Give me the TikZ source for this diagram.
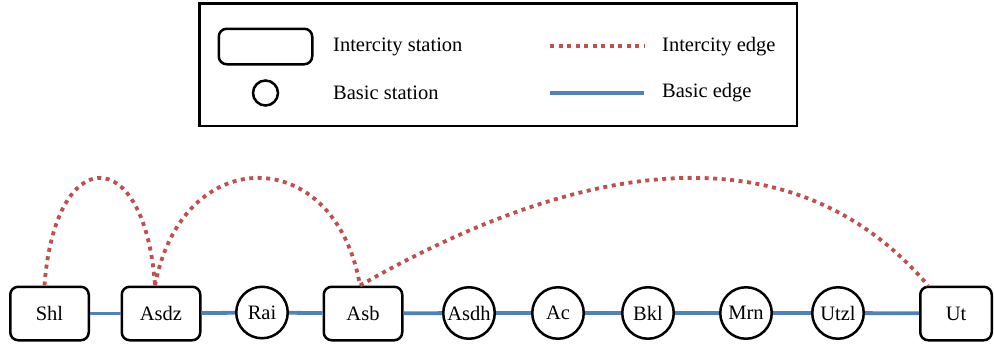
\documentclass[tikz,border=0pt]{standalone}
\usepackage{fontspec}
\setmainfont{Liberation Serif}
\newfontfamily\tnr{Liberation Serif}
\newcommand{\lblfont}{\tnr\fontsize{20.5}{24}\selectfont}
\definecolor{icred}{RGB}{192,80,77}
\definecolor{bblue}{RGB}{79,129,189}
\begin{document}
\begin{tikzpicture}[x=1pt,y=-1pt,
  every node/.append style={font=\lblfont},
  ic/.style={draw,line width=2.5pt,rounded corners=8pt,minimum width=78.5pt,minimum height=53.5pt,inner sep=0pt},
  bs/.style={draw,circle,line width=2.5pt,minimum size=51.5pt,inner sep=0pt},
  icedge/.style={icred,line width=3.8pt,dash pattern=on 4pt off 4.5pt},
  bedge/.style={bblue,line width=3.8pt},
  lbl/.style={anchor=west,inner sep=0pt}]
\useasboundingbox (0,0) rectangle (994,343);
% legend
\node[draw,line width=2.5pt,minimum width=597.5pt,minimum height=122.5pt,inner sep=0pt] (legend) at (498,64.5) {};
\node[draw,line width=2.5pt,rounded corners=8pt,minimum width=93.5pt,minimum height=35.5pt,inner sep=0pt] (lrect) at (265.5,46.5) {};
\node[draw,circle,line width=2.5pt,minimum size=25pt,inner sep=0pt] (lcirc) at (265.5,93) {};
\node[lbl] (t1) at (333,47) {Intercity station};
\node[lbl] (t2) at (333,93) {Basic station};
\node[lbl] (t3) at (662,47) {Intercity edge};
\node[lbl] (t4) at (662,93) {Basic edge};
\coordinate (d1) at (550,46);
\coordinate (d2) at (644,46);
\coordinate (b1) at (550,93);
\coordinate (b2) at (644,93);
\draw[icedge] (d1) -- (d2);
\draw[bedge] (b1) -- (b2);
% stations
\node[ic] (Shl) at (49.5,313.5) {Shl};
\node[ic] (Asdz) at (161,313.5) {Asdz};
\node[bs] (Rai) at (262,312.5) {Rai};
\node[ic] (Asb) at (363,313.5) {Asb};
\node[bs] (Asdh) at (469,313) {Asdh};
\node[bs] (Ac) at (558,313) {Ac};
\node[bs] (Bkl) at (648,313) {Bkl};
\node[bs] (Mrn) at (746,313) {Mrn};
\node[bs] (Utzl) at (838,313) {Utzl};
\node[ic,minimum width=71.5pt] (Ut) at (956,313.5) {Ut};
% basic edges
\draw[bedge] (Shl) -- (Asdz);
\draw[bedge] (Asdz) -- (Rai);
\draw[bedge] (Rai) -- (Asb);
\draw[bedge] (Asb) -- (Asdh);
\draw[bedge] (Asdh) -- (Ac);
\draw[bedge] (Ac) -- (Bkl);
\draw[bedge] (Bkl) -- (Mrn);
\draw[bedge] (Mrn) -- (Utzl);
\draw[bedge] (Utzl) -- (Ut);
% intercity edges
\draw[icedge] ([xshift=-5pt]Shl.north) .. controls (55,142) and (145,142) .. ([xshift=-6pt]Asdz.north);
\draw[icedge] ([xshift=-6pt]Asdz.north) .. controls (182,142) and (335,142) .. ([xshift=-3pt]Asb.north);
\draw[icedge] ([xshift=-3pt]Asb.north) .. controls (611,142) and (806,142) .. ([xshift=-28pt]Ut.north);
\end{tikzpicture}
\end{document}
